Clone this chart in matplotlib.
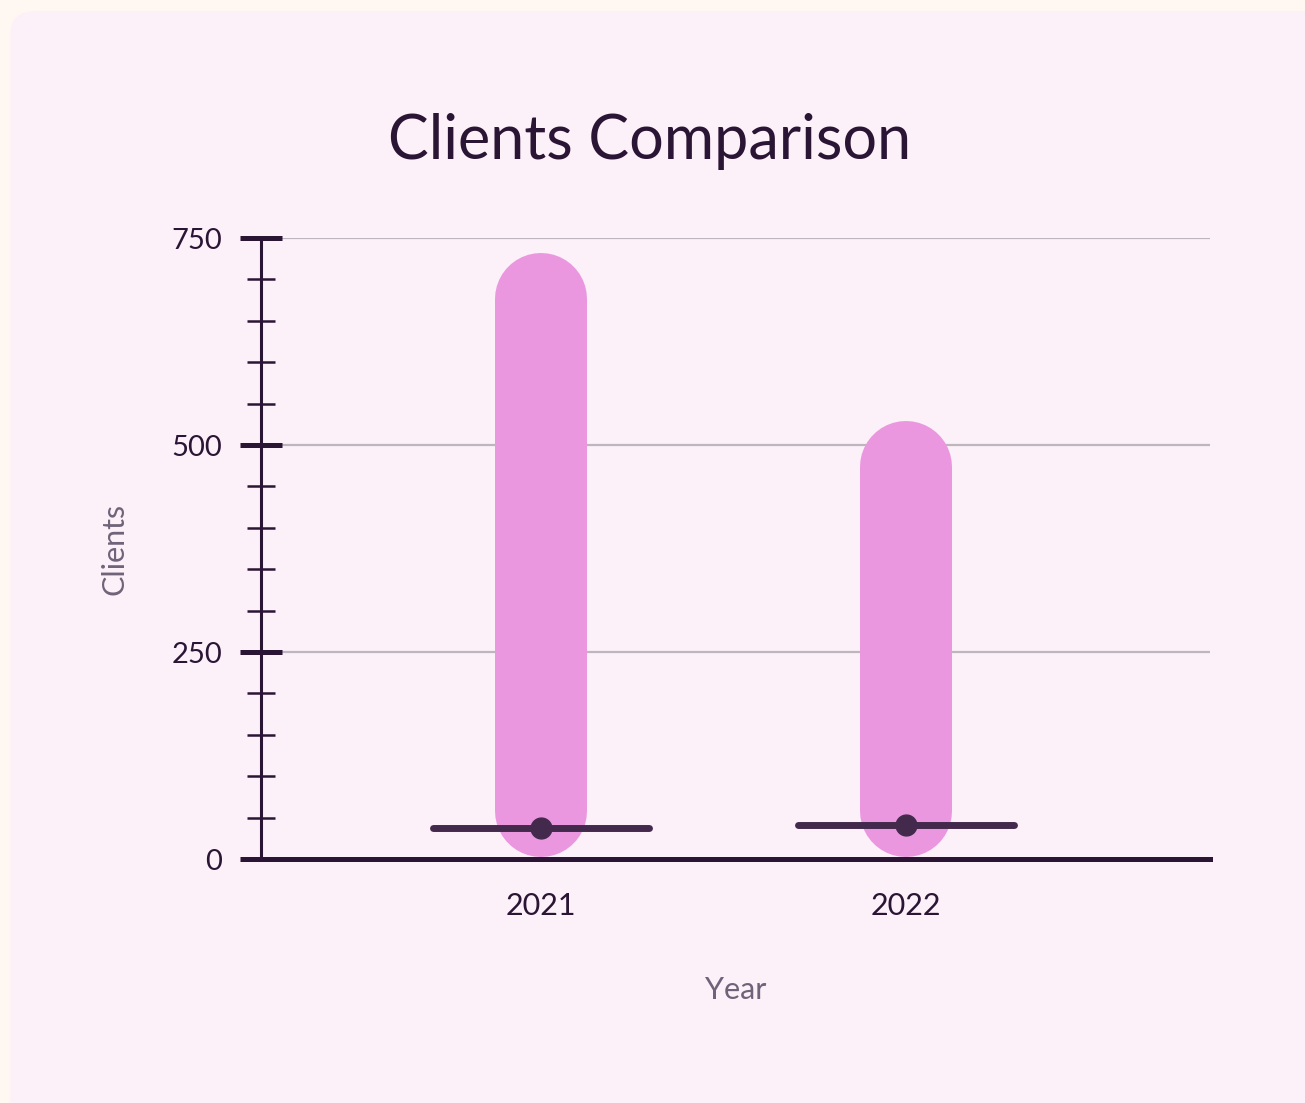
import matplotlib.pyplot as plt
from matplotlib.patches import FancyBboxPatch
from matplotlib.ticker import MultipleLocator

years = ['2021', '2022']
low = [2, 2]
high = [732, 529]
median = [37, 41]

plt.rcParams['font.family'] = ['Lato', 'DejaVu Sans']

dark = '#2B1535'
pink = '#EA97DF'
mid = '#432A4C'
grey_txt = '#6F6379'

fig = plt.figure(figsize=(13.05, 11.03), dpi=100)
fig.patch.set_facecolor('#FFF8F2')
panel = FancyBboxPatch((0.008, -0.05), 1.05, 1.04, boxstyle='round,pad=0,rounding_size=0.02',
                       transform=fig.transFigure, facecolor='#FCF0F9', edgecolor='none', zorder=-10)
fig.patches.append(panel)

ax = fig.add_axes([0.2, 0.2212, 0.7272, 0.563])
ax.set_facecolor('none')
ax.set_zorder(1)
ax.set_xlim(-0.767, 1.833)
ax.set_ylim(0, 750)

x = list(range(len(years)))

# pill bars: thick lines with round caps, shortened by the cap radius
bar_px = 92
fig.canvas.draw()
px_per_unit = ax.transData.transform((0, 1))[1] - ax.transData.transform((0, 0))[1]
r = (bar_px / 2) / px_per_unit
for xi, lo, hi in zip(x, low, high):
    ax.plot([xi, xi], [lo + r, hi - r], color=pink, lw=bar_px * 72 / 100,
            solid_capstyle='round', zorder=2)

for xi, m in zip(x, median):
    ax.plot([xi - 0.295, xi + 0.295], [m, m], color=mid, lw=5, solid_capstyle='round', zorder=3)
    ax.plot(xi, m, 'o', color=mid, markersize=15, zorder=4)

ax.set_xticks(x)
ax.set_xticklabels(years)
ax.yaxis.set_major_locator(MultipleLocator(250))
ax.yaxis.set_minor_locator(MultipleLocator(50))
ax.grid(axis='y', which='major', color='#BDB6BF', lw=1.6, zorder=1)
ax.set_axisbelow(True)

for s in ['top', 'right']:
    ax.spines[s].set_visible(False)
ax.spines['left'].set_color(dark)
ax.spines['left'].set_linewidth(2.2)
ax.spines['bottom'].set_color(dark)
ax.spines['bottom'].set_linewidth(3.6)
ax.spines['bottom'].set_zorder(5)

ax.tick_params(axis='y', which='major', direction='inout', length=30, width=3.6,
               color=dark, labelsize=21, labelcolor=dark, pad=13)
ax.tick_params(axis='y', which='minor', direction='inout', length=20, width=1.8, color=dark)
ax.tick_params(axis='x', length=0, labelsize=22, labelcolor=dark, pad=24)

ax.set_xlabel('Year', fontsize=22, color=grey_txt, labelpad=40)
ax.set_ylabel('Clients', fontsize=22, color=grey_txt, labelpad=31)

fig.text(0.498, 0.872, 'Clients Comparison', fontsize=44, color=dark, ha='center', va='center')

fig.savefig('out.png', dpi=100, facecolor=fig.get_facecolor())
